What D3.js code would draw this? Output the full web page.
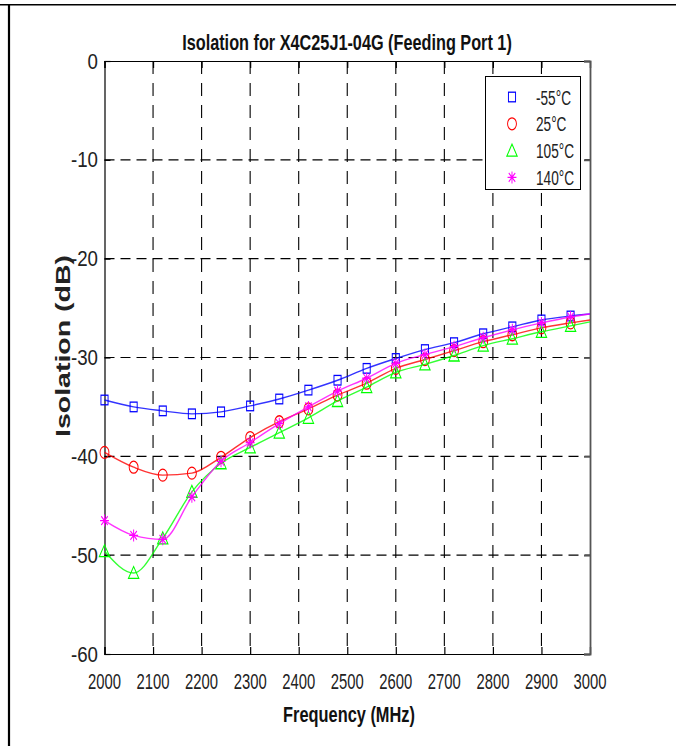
<!DOCTYPE html>
<html><head><meta charset="utf-8">
<script src="https://cdn.jsdelivr.net/npm/d3@7"></script>
<style>
html,body{margin:0;padding:0;background:#fff;}
svg{display:block;font-family:"Liberation Sans",Arial,sans-serif;}
</style></head>
<body>
<svg id="chart" width="676" height="746"></svg>
<script>
// ---- data ----
const title = "Isolation for X4C25J1-04G (Feeding Port 1)";
const xLabel = "Frequency (MHz)";
const yLabel = "Isolation (dB)";
const xTicks = [2000,2100,2200,2300,2400,2500,2600,2700,2800,2900,3000];
const yTicks = [0,-10,-20,-30,-40,-50,-60];
const seriesNames = ["-55°C","25°C","105°C","140°C"];
// frequencies of the curves (markers on all but the last point)
const freqs = [2000,2060,2120,2180,2240,2300,2360,2420,2480,2540,2600,2660,2720,2780,2840,2900,2960,3000];
const isoMinus55 = [-34.3,-35.0,-35.4,-35.7,-35.5,-34.9,-34.2,-33.3,-32.3,-31.1,-30.1,-29.2,-28.5,-27.6,-26.9,-26.2,-25.8,-25.6];
const iso25      = [-39.6,-41.1,-41.9,-41.7,-40.1,-38.1,-36.5,-35.2,-33.8,-32.6,-31.1,-30.2,-29.3,-28.4,-27.7,-27.0,-26.5,-26.2];
const iso105     = [-49.6,-51.8,-48.3,-43.6,-40.7,-39.1,-37.6,-36.1,-34.4,-33.0,-31.5,-30.7,-29.8,-28.8,-28.1,-27.4,-26.8,-26.4];
const iso140     = [-46.5,-48.0,-48.4,-44.1,-40.5,-38.6,-36.7,-35.0,-33.4,-32.1,-30.6,-29.7,-28.9,-28.0,-27.2,-26.5,-25.9,-25.6];
const seriesColors = ["#0000ff","#ff0000","#00ff00","#ff00ff"];
const seriesMarkers = ["square","circle","triangle","star"];

// ---- layout ----
const svg = d3.select("#chart");
const L = 104.5, R = 590, T = 61, B = 654;
const SX = 0.74; // horizontal squeeze of the original picture
const x = d3.scaleLinear().domain([2000,3000]).range([L,R]);
const y = d3.scaleLinear().domain([-60,0]).range([B,T]);

// helper: measure natural width of a string
function measure(str, size, weight){
  const t = svg.append("text").attr("font-size",size).attr("font-weight",weight||"normal").text(str);
  const w = t.node().getComputedTextLength(); t.remove(); return w;
}

// outer frame (table border)
svg.append("line").attr("x1",0).attr("x2",676).attr("y1",4.8).attr("y2",4.8).attr("stroke","#000").attr("stroke-width",1.6);
svg.append("line").attr("x1",9).attr("x2",9).attr("y1",4).attr("y2",746).attr("stroke","#000").attr("stroke-width",2.2);

// grid
const g = svg.append("g");
g.selectAll("line.vg").data(xTicks.slice(1,-1)).join("line")
  .attr("x1",d=>x(d)).attr("x2",d=>x(d)).attr("y1",T).attr("y2",B)
  .attr("stroke","#000").attr("stroke-width",1.1).attr("stroke-dasharray","13,9");
g.selectAll("line.hg").data(yTicks.slice(1,-1)).join("line")
  .attr("x1",L).attr("x2",R).attr("y1",d=>y(d)).attr("y2",d=>y(d))
  .attr("stroke","#000").attr("stroke-width",1.1).attr("stroke-dasharray","10,6");

// axes via d3 axis (inward ticks)
const xAxis = svg.append("g").attr("transform",`translate(0,${B})`)
  .call(d3.axisBottom(x).tickValues(xTicks).tickSize(-7).tickFormat(""));
const yAxis = svg.append("g").attr("transform",`translate(${L},0)`)
  .call(d3.axisLeft(y).tickValues(yTicks).tickSize(-6).tickFormat(""));
const xAxisTop = svg.append("g").attr("transform",`translate(0,${T})`)
  .call(d3.axisTop(x).tickValues(xTicks).tickSize(-7).tickFormat(""));
const yAxisR = svg.append("g").attr("transform",`translate(${R},0)`)
  .call(d3.axisRight(y).tickValues(yTicks).tickSize(-6).tickFormat(""));
[xAxis,yAxis,xAxisTop].forEach(a=>{a.selectAll("path,line").attr("stroke","#000").attr("stroke-width",1.2);});
yAxisR.selectAll("path,line").attr("stroke","#555").attr("stroke-width",1.8);

// tick labels (squeezed horizontally)
const tickFont = 21.5;
const sxX = 33 / measure("2000", tickFont);
const sxY = 27 / measure("-10", tickFont);
xTicks.forEach(v=>{
  svg.append("g").attr("transform",`translate(${x(v)},689) scale(${sxX},1)`)
    .append("text").attr("text-anchor","middle").attr("font-size",tickFont).attr("fill","#222").text(v);
});
yTicks.forEach(v=>{
  svg.append("g").attr("transform",`translate(98,${y(v)+7.5}) scale(${sxY},1)`)
    .append("text").attr("text-anchor","end").attr("font-size",tickFont).attr("fill","#222").text(v);
});

// titles
const tSize = 22;
svg.append("g").attr("transform",`translate(347,50) scale(${330/measure(title,tSize,"bold")},1)`)
  .append("text").attr("text-anchor","middle").attr("font-size",tSize).attr("font-weight","bold").attr("fill","#111").text(title);
const xlSize = 22;
svg.append("g").attr("transform",`translate(349,722) scale(${132/measure(xLabel,xlSize,"bold")},1)`)
  .append("text").attr("text-anchor","middle").attr("font-size",xlSize).attr("font-weight","bold").attr("fill","#111").text(xLabel);
const ylSize = 24;
const ylScale = 182/measure(yLabel,ylSize,"bold");
svg.append("g").attr("transform",`translate(70,346) rotate(-90) scale(${ylScale},${ylScale*SX})`)
  .append("text").attr("text-anchor","middle").attr("font-size",ylSize).attr("font-weight","bold").attr("fill","#222").text(yLabel);

// markers
function drawMarker(sel, type, color){
  const s = sel.append("g").attr("transform",`scale(${SX},1)`);
  const common = e=>e.attr("fill","none").attr("stroke",color).attr("stroke-width",1.3);
  if(type==="square") common(s.append("rect").attr("x",-4.8).attr("y",-4.8).attr("width",9.6).attr("height",9.6));
  else if(type==="circle") common(s.append("ellipse").attr("rx",6).attr("ry",6));
  else if(type==="triangle") common(s.append("path").attr("d","M0,-6.5 L7,5.5 L-7,5.5 Z"));
  else if(type==="star"){
    common(s.append("path").attr("d","M0,-6V6M-6,0H6M-4.4,-4.4L4.4,4.4M-4.4,4.4L4.4,-4.4").attr("stroke-width",1.5));
  }
}

const allSeries = [isoMinus55, iso25, iso105, iso140];
const line = d3.line().x((d,i)=>x(freqs[i])).y(d=>y(d)).curve(d3.curveMonotoneX);
allSeries.forEach((vals,k)=>{
  const col = seriesColors[k];
  svg.append("path").datum(vals).attr("d",line).attr("fill","none")
    .attr("stroke",col).attr("stroke-width",1.4).attr("stroke-opacity",0.8);
  vals.slice(0,-1).forEach((v,i)=>{
    drawMarker(svg.append("g").attr("transform",`translate(${x(freqs[i])},${y(v)})`), seriesMarkers[k], col);
  });
});

// legend
const lg = svg.append("g");
lg.append("rect").attr("x",485.5).attr("y",76.5).attr("width",95).attr("height",113)
  .attr("fill","#fff").attr("stroke","#000").attr("stroke-width",1);
const legSize = 20;
const legScale = 35 / measure("-55°C", legSize);
seriesNames.forEach((n,k)=>{
  const yy = 97 + k*26.8;
  drawMarker(lg.append("g").attr("transform",`translate(512,${yy})`), seriesMarkers[k], seriesColors[k]);
  lg.append("g").attr("transform",`translate(536,${yy+7.5}) scale(${legScale},1)`)
    .append("text").attr("font-size",legSize).attr("fill","#222").text(n);
});
</script>
</body></html>
